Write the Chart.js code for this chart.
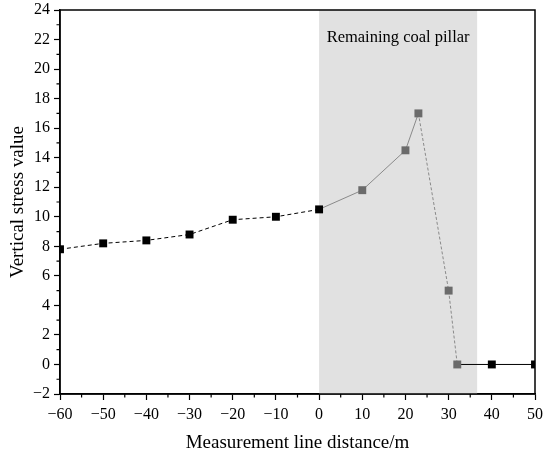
<!DOCTYPE html>
<html>
<head>
<meta charset="utf-8">
<script src="https://cdn.jsdelivr.net/npm/chart.js@4/dist/chart.umd.min.js"></script>
<style>
html,body{margin:0;padding:0;background:#fff;}
#wrap{width:550px;height:458px;}
</style>
</head>
<body>
<div id="wrap"><canvas id="c"></canvas></div>
<script>
// Data
const distances = [-60, -50, -40, -30, -20, -10, 0, 10, 20, 23, 30, 32, 40, 50];
const stressValues = [7.8, 8.2, 8.4, 8.8, 9.8, 10.0, 10.5, 11.8, 14.5, 17.0, 5.0, 0.0, 0.0, 0.0];
const pillarRange = [0, 36.6];
const pillarLabel = "Remaining coal pillar";
const xTitle = "Measurement line distance/m";
const yTitle = "Vertical stress value";
const xRange = [-60, 50];
const yRange = [-2, 24];

const FONT = "'Liberation Serif', 'Times New Roman', serif";
const insidePillar = (x) => x > pillarRange[0] && x <= pillarRange[1];
const pointColors = distances.map(x => insidePillar(x) ? '#6b6b6b' : '#000000');

const shadePlugin = {
  id: 'shade',
  beforeDatasetsDraw(chart) {
    const {ctx, chartArea, scales} = chart;
    const x0 = scales.x.getPixelForValue(pillarRange[0]);
    const x1 = scales.x.getPixelForValue(pillarRange[1]);
    ctx.save();
    ctx.fillStyle = '#e1e1e1';
    ctx.fillRect(x0, chartArea.top, x1 - x0, chartArea.bottom - chartArea.top);
    ctx.fillStyle = '#000';
    ctx.font = '16.5px ' + FONT;
    ctx.textAlign = 'center';
    ctx.textBaseline = 'middle';
    ctx.fillText(pillarLabel, (x0 + x1) / 2, chartArea.top + 28);
    ctx.restore();
  },
  afterDraw(chart) {
    const {ctx, chartArea, scales} = chart;
    ctx.save();
    ctx.strokeStyle = '#000';
    ctx.lineWidth = 1.5;
    ctx.strokeRect(chartArea.left, chartArea.top, chartArea.right - chartArea.left, chartArea.bottom - chartArea.top);
    // minor ticks
    ctx.lineWidth = 1.2;
    ctx.beginPath();
    for (let v = xRange[0] + 5; v < xRange[1]; v += 10) {
      const px = scales.x.getPixelForValue(v);
      ctx.moveTo(px, chartArea.bottom);
      ctx.lineTo(px, chartArea.bottom + 3.5);
    }
    for (let v = yRange[0] + 1; v < yRange[1]; v += 2) {
      const py = scales.y.getPixelForValue(v);
      ctx.moveTo(chartArea.left, py);
      ctx.lineTo(chartArea.left - 3.5, py);
    }
    ctx.stroke();
    ctx.restore();
  }
};

const fmt = (v) => (v < 0 ? '\u2212' + Math.abs(v) : String(v));

new Chart(document.getElementById('c'), {
  type: 'scatter',
  data: {
    datasets: [{
      data: distances.map((x, i) => ({x: x, y: stressValues[i]})),
      showLine: true,
      borderWidth: 1,
      borderColor: '#000',
      pointStyle: 'rect',
      pointRadius: 5.6,
      pointHoverRadius: 5.6,
      pointBackgroundColor: pointColors,
      pointBorderColor: pointColors,
      pointBorderWidth: 0,
      segment: {
        borderColor: (c) => {
          const xa = distances[c.p0DataIndex], xb = distances[c.p1DataIndex];
          return (xa >= pillarRange[0] && xb <= 32 && xb > 0 && xa < 32) ? '#8a8a8a' : '#000';
        },
        borderDash: (c) => {
          const xa = distances[c.p0DataIndex];
          if (xa < 0) return [4, 3];
          if (xa >= 23 && xa < 32) return [3, 2];
          return [];
        }
      }
    }]
  },
  options: {
    responsive: true,
    maintainAspectRatio: false,
    animation: false,
    devicePixelRatio: 1,
    layout: {padding: {top: 10, right: 15, left: 3, bottom: 0}},
    plugins: {legend: {display: false}, tooltip: {enabled: false}},
    scales: {
      x: {
        type: 'linear',
        min: xRange[0], max: xRange[1],
        afterFit(s) { s.height = 64; s.paddingRight = 0; s.paddingLeft = 0; },
        ticks: {stepSize: 10, color: '#000', font: {family: FONT, size: 16}, padding: 5, callback: fmt},
        grid: {display: true, drawOnChartArea: false, tickLength: 6, tickColor: '#000', tickWidth: 1.2},
        border: {display: true, color: '#000', width: 1.5},
        title: {display: true, text: xTitle, color: '#000', font: {family: FONT, size: 19}, padding: {top: 2}}
      },
      y: {
        type: 'linear',
        min: yRange[0], max: yRange[1],
        afterFit(s) { s.width = 57; s.paddingTop = 0; s.paddingBottom = 0; },
        ticks: {stepSize: 2, color: '#000', font: {family: FONT, size: 16}, padding: 4, callback: fmt},
        grid: {display: true, drawOnChartArea: false, tickLength: 6, tickColor: '#000', tickWidth: 1.2},
        border: {display: true, color: '#000', width: 1.5},
        title: {display: true, text: yTitle, color: '#000', font: {family: FONT, size: 19}, padding: {bottom: 0}}
      }
    }
  },
  plugins: [shadePlugin]
});
</script>
</body>
</html>
